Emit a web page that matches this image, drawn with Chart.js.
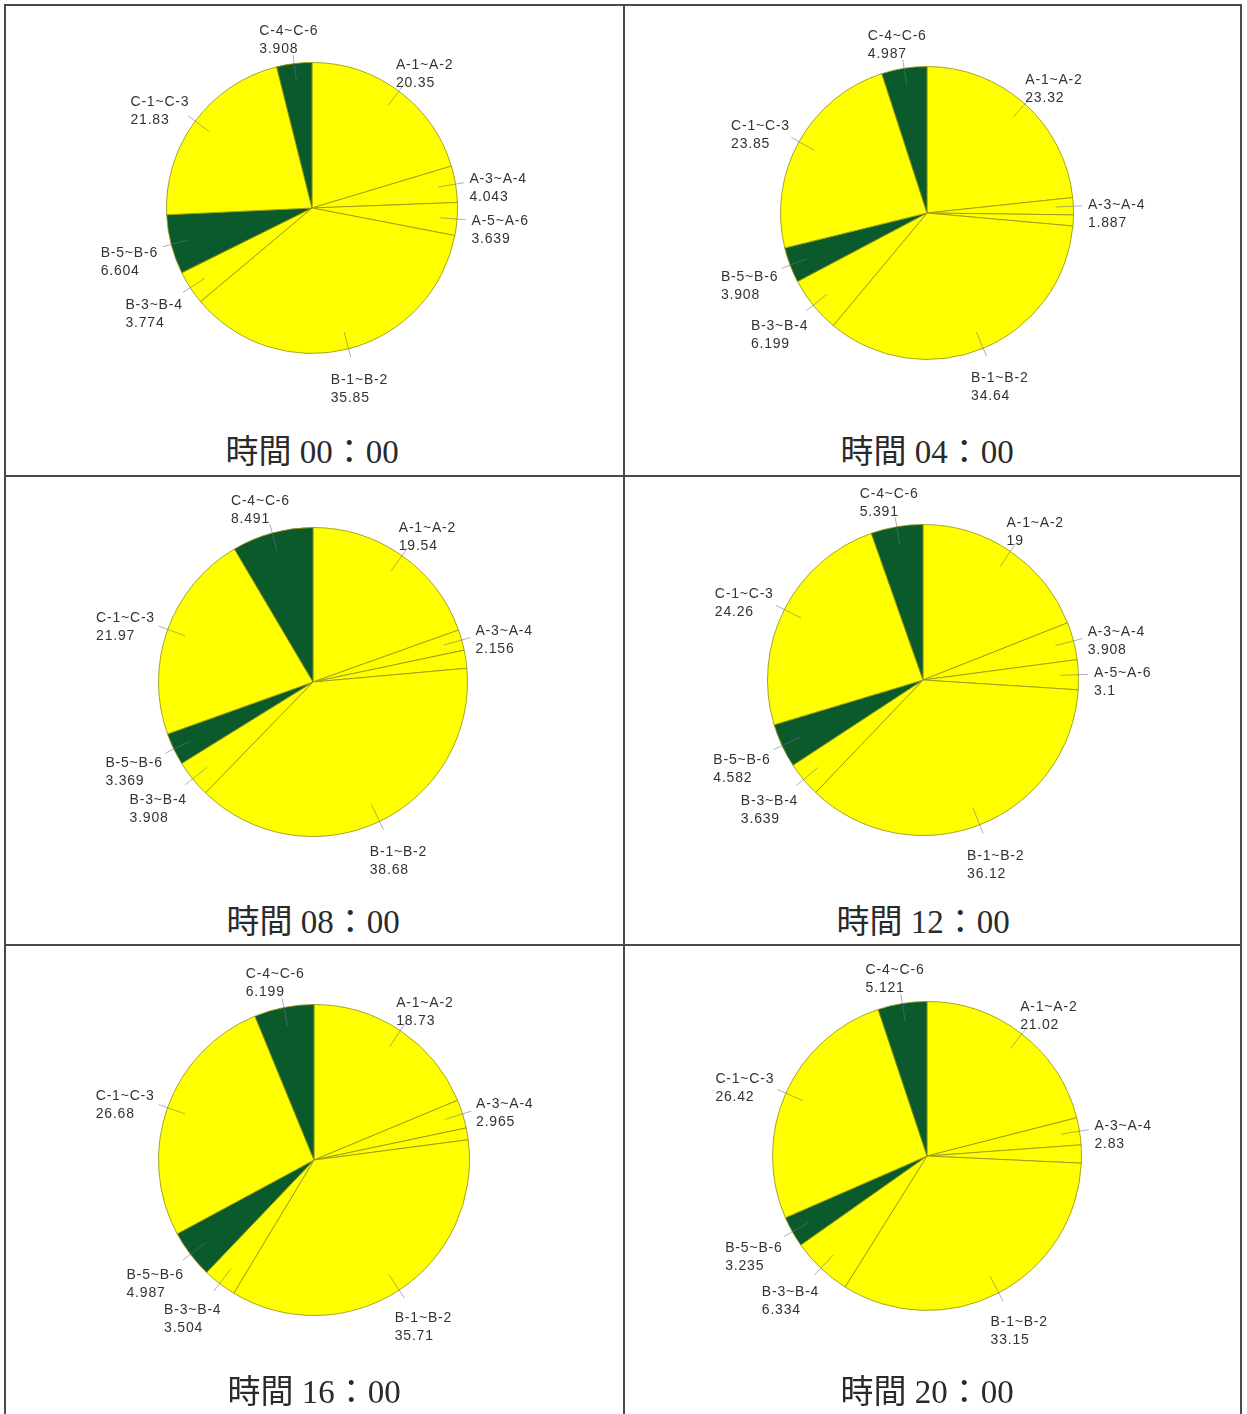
<!DOCTYPE html>
<html>
<head>
<meta charset="utf-8">
<script src="https://cdn.jsdelivr.net/npm/chart.js@4/dist/chart.umd.min.js"></script>
<style>
  body { margin: 0; background: #fff; width: 1247px; height: 1414px; position: relative; overflow: hidden; }
  .rule { position: absolute; background: #4a4a4a; }
  canvas { position: absolute; }
  .title {
    position: absolute; width: 400px; text-align: center;
    font-family: "Liberation Serif", "Noto Sans CJK TC", serif;
    font-size: 33px; color: #2a2a2a; line-height: 36px;
  }
</style>
</head>
<body>
<!-- table grid -->
<div class="rule" style="left:4px;top:4px;width:1238px;height:2px"></div>
<div class="rule" style="left:4px;top:4px;width:2px;height:1410px"></div>
<div class="rule" style="left:1240px;top:4px;width:2px;height:1410px"></div>
<div class="rule" style="left:623px;top:4px;width:2px;height:1410px"></div>
<div class="rule" style="left:4px;top:475px;width:1238px;height:2px"></div>
<div class="rule" style="left:4px;top:944px;width:1238px;height:2px"></div>

<script>
// slice categories, clockwise from 12 o'clock
const categories = ['A-1~A-2', 'A-3~A-4', 'A-5~A-6', 'B-1~B-2', 'B-3~B-4', 'B-5~B-6', 'C-1~C-3', 'C-4~C-6'];
const greenCats = ['B-5~B-6', 'C-4~C-6'];

const times = ['00：00', '04：00', '08：00', '12：00', '16：00', '20：00'];

const v0000 = [20.35, 4.043, 3.639, 35.85, 3.774, 6.604, 21.83, 3.908];
const v0400 = [23.32, 1.887, 1.21, 34.64, 6.199, 3.908, 23.85, 4.987];
const v0800 = [19.54, 2.156, 1.886, 38.68, 3.908, 3.369, 21.97, 8.491];
const v1200 = [19, 3.908, 3.1, 36.12, 3.639, 4.582, 24.26, 5.391];
const v1600 = [18.73, 2.965, 1.225, 35.71, 3.504, 4.987, 26.68, 6.199];
const v2000 = [21.02, 2.83, 1.89, 33.15, 6.334, 3.235, 26.42, 5.121];

// slices drawn without a label in the original
const unlabeled0000 = [];
const unlabeled0400 = ['A-5~A-6'];
const unlabeled0800 = ['A-5~A-6'];
const unlabeled1200 = [];
const unlabeled1600 = ['A-5~A-6'];
const unlabeled2000 = ['A-5~A-6'];

const seriesList = [v0000, v0400, v0800, v1200, v1600, v2000];
const unlabeledList = [unlabeled0000, unlabeled0400, unlabeled0800, unlabeled1200, unlabeled1600, unlabeled2000];

// panel geometry: pie centre, radius, title centre y
const panels = [
  { cx: 312, cy: 208, r: 146, ty: 452 },
  { cx: 927, cy: 213, r: 147, ty: 452 },
  { cx: 313, cy: 682, r: 155, ty: 922 },
  { cx: 923, cy: 680, r: 156, ty: 922 },
  { cx: 314, cy: 1160, r: 156, ty: 1392 },
  { cx: 927, cy: 1156, r: 155, ty: 1392 }
];

const YELLOW = '#ffff00';
const GREEN = '#0a5a2b';

const sliceLabels = {
  id: 'sliceLabels',
  afterDatasetsDraw(chart, args, opts) {
    const ctx = chart.ctx;
    const meta = chart.getDatasetMeta(0);
    const values = chart.data.datasets[0].data;
    const lineH = 18;
    ctx.save();
    ctx.font = '14px "Liberation Sans", Arial, sans-serif';
    ctx.letterSpacing = '0.8px';
    ctx.textBaseline = 'middle';
    ctx.textAlign = 'left';
    meta.data.forEach((arc, i) => {
      const name = chart.data.labels[i];
      if (opts.skip.includes(name)) return;
      const p = arc.getProps(['x', 'y', 'startAngle', 'endAngle', 'outerRadius'], true);
      const mid = (p.startAngle + p.endAngle) / 2;
      const dx = Math.cos(mid), dy = Math.sin(mid);
      const r = p.outerRadius;

      // leader line
      ctx.strokeStyle = 'rgba(110,110,140,0.7)';
      ctx.lineWidth = 0.8;
      ctx.beginPath();
      ctx.moveTo(p.x + dx * r * 0.88, p.y + dy * r * 0.88);
      ctx.lineTo(p.x + dx * r * 1.06, p.y + dy * r * 1.06);
      ctx.stroke();

      // text block
      const l1 = name, l2 = String(values[i]);
      const w = Math.max(ctx.measureText(l1).width, ctx.measureText(l2).width);
      const h = lineH * 2;
      const px = p.x + dx * r * 1.1, py = p.y + dy * r * 1.1;
      const bx = px + dx * w / 2 - w / 2;
      const by = py + dy * h / 2 - h / 2 + 9;
      ctx.fillStyle = '#333';
      ctx.fillText(l1, bx, by + lineH / 2);
      ctx.fillText(l2, bx, by + lineH * 1.5);
    });
    ctx.restore();
  }
};

const W = 600, H = 440;

panels.forEach((pn, k) => {
  const canvas = document.createElement('canvas');
  canvas.width = W; canvas.height = H;
  canvas.style.width = W + 'px'; canvas.style.height = H + 'px';
  canvas.style.left = (pn.cx - W / 2) + 'px';
  canvas.style.top = (pn.cy - H / 2) + 'px';
  document.body.appendChild(canvas);

  const title = document.createElement('div');
  title.className = 'title';
  title.textContent = '時間 ' + times[k];
  title.style.left = (pn.cx - 200) + 'px';
  title.style.top = (pn.ty - 18) + 'px';
  document.body.appendChild(title);

  const padX = W / 2 - pn.r, padY = H / 2 - pn.r;

  new Chart(canvas, {
    type: 'pie',
    data: {
      labels: categories,
      datasets: [{
        data: seriesList[k],
        backgroundColor: categories.map(c => greenCats.includes(c) ? GREEN : YELLOW),
        borderColor: 'rgba(150,150,20,0.85)',
        borderWidth: 1
      }]
    },
    options: {
      responsive: false,
      animation: false,
      layout: { padding: { left: padX, right: padX, top: padY, bottom: padY } },
      plugins: {
        legend: { display: false },
        tooltip: { enabled: false },
        sliceLabels: { skip: unlabeledList[k] }
      }
    },
    plugins: [sliceLabels]
  });
});
</script>
</body>
</html>
